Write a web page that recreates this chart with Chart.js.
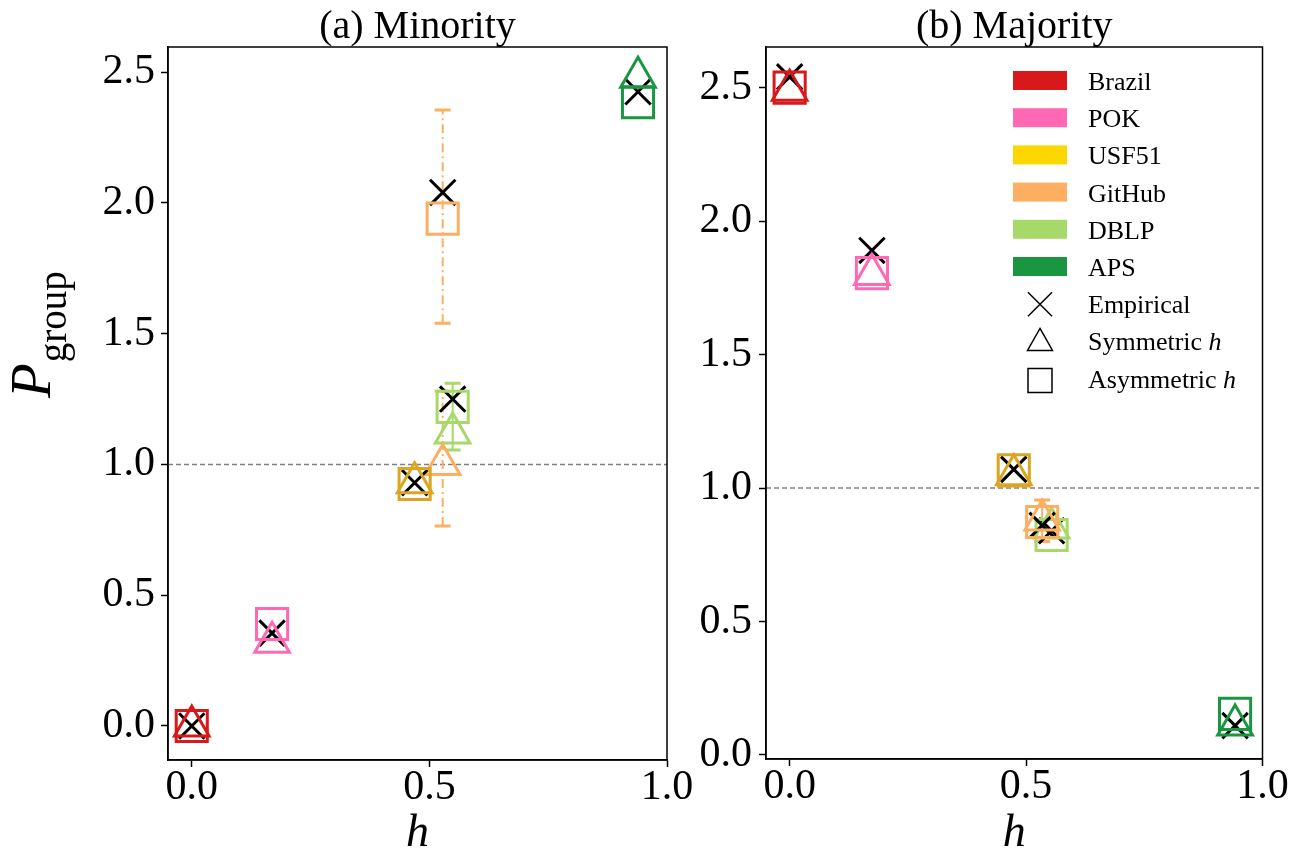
<!DOCTYPE html>
<html>
<head>
<meta charset="utf-8">
<script src="https://cdn.jsdelivr.net/npm/chart.js@4.4.0/dist/chart.umd.min.js"></script>
<style>
  html, body { margin: 0; padding: 0; background: #fff; }
  #wrap { position: relative; width: 1302px; height: 852px; }
  #minorityChart { position: absolute; left: 0; top: 0; }
  #majorityChart { position: absolute; left: 700px; top: 0; }
</style>
</head>
<body>
<div id="wrap">
  <canvas id="minorityChart" width="700" height="852"></canvas>
  <canvas id="majorityChart" width="602" height="852"></canvas>
</div>
<script>
// groups and colours
var groups = ['Brazil', 'POK', 'USF51', 'GitHub', 'DBLP', 'APS'];
var legendColors = ['#d7191c', '#ff69b4', '#ffd700', '#fdae61', '#a6d96a', '#1a9641'];
var markerColors = ['#d7191c', '#ff69b4', '#daa520', '#fdae61', '#a6d96a', '#1a9641'];
var markerLabels = ['Empirical', 'Symmetric ', 'Asymmetric '];

var xTicks = [0.0, 0.5, 1.0];
var yTicks = [0.0, 0.5, 1.0, 1.5, 2.0, 2.5];

// (a) minority
var minorityH = [0.0, 0.169, 0.469, 0.528, 0.549, 0.939];
var minorityEmpirical = [0.0, 0.355, 0.93, 2.04, 1.25, 2.425];
var minoritySymmetric = [0.0, 0.32, 0.93, 1.0, 1.12, 2.48];
var minorityAsymmetric = [0.0, 0.39, 0.925, 1.94, 1.22, 2.385];
var minorityErrGroup = ['GitHub', 'GitHub', 'DBLP'];
var minorityErrLow = [0.765, 1.54, 1.055];
var minorityErrHigh = [1.28, 2.355, 1.31];
var minorityErrDashed = [true, true, false];

// (b) majority
var majorityH = [0.0, 0.174, 0.474, 0.534, 0.554, 0.942];
var majorityEmpirical = [2.54, 1.89, 1.07, 0.86, 0.84, 0.11];
var majoritySymmetric = [2.49, 1.80, 1.05, 0.88, 0.85, 0.112];
var majorityAsymmetric = [2.50, 1.805, 1.066, 0.873, 0.824, 0.154];
var majorityErrGroup = ['GitHub'];
var majorityErrLow = [0.80];
var majorityErrHigh = [0.955];
var majorityErrDashed = [false];

var serif = "'Liberation Serif', 'Times New Roman', serif";

function buildDatasets(h, emp, sym, asym) {
  var sets = [];
  groups.forEach(function (name, i) {
    sets.push({
      label: name + ' asymmetric',
      data: [{ x: h[i], y: asym[i] }],
      pointStyle: 'rect',
      radius: 22,
      borderColor: markerColors[i],
      backgroundColor: 'rgba(0,0,0,0)',
      borderWidth: 3
    });
    sets.push({
      label: name + ' symmetric',
      data: [{ x: h[i], y: sym[i] }],
      pointStyle: 'triangle',
      radius: 20,
      borderColor: markerColors[i],
      backgroundColor: 'rgba(0,0,0,0)',
      borderWidth: 3
    });
    sets.push({
      label: name + ' empirical',
      data: [{ x: h[i], y: emp[i] }],
      pointStyle: 'crossRot',
      radius: 18,
      borderColor: '#000',
      backgroundColor: 'rgba(0,0,0,0)',
      borderWidth: 3
    });
  });
  return sets;
}

var framePlugin = {
  id: 'frame',
  beforeDatasetsDraw: function (chart) {
    var ctx = chart.ctx, a = chart.chartArea, y = chart.scales.y;
    var py = y.getPixelForValue(1.0);
    ctx.save();
    ctx.strokeStyle = '#808080';
    ctx.lineWidth = 1.5;
    ctx.setLineDash([5, 3]);
    ctx.beginPath();
    ctx.moveTo(a.left, py);
    ctx.lineTo(a.right, py);
    ctx.stroke();
    ctx.restore();
  },
  afterDraw: function (chart) {
    var ctx = chart.ctx, a = chart.chartArea;
    ctx.save();
    ctx.strokeStyle = '#000';
    ctx.lineWidth = 1.5;
    ctx.strokeRect(a.left, a.top, a.right - a.left, a.bottom - a.top);
    ctx.restore();
  }
};

function errorBarPlugin(h, errGroup, lows, highs, dashed) {
  return {
    id: 'errorBars',
    beforeDatasetsDraw: function (chart) {
      var ctx = chart.ctx, xs = chart.scales.x, ys = chart.scales.y;
      errGroup.forEach(function (g, k) {
        var i = groups.indexOf(g);
        var px = xs.getPixelForValue(h[i]);
        var lo = ys.getPixelForValue(lows[k]);
        var hi = ys.getPixelForValue(highs[k]);
        ctx.save();
        ctx.strokeStyle = markerColors[i];
        ctx.lineWidth = 2;
        ctx.setLineDash(dashed[k] ? [9, 4, 2, 4] : []);
        ctx.beginPath();
        ctx.moveTo(px, lo);
        ctx.lineTo(px, hi);
        ctx.stroke();
        ctx.setLineDash([]);
        ctx.lineWidth = 3;
        ctx.beginPath();
        ctx.moveTo(px - 8, lo); ctx.lineTo(px + 8, lo);
        ctx.moveTo(px - 8, hi); ctx.lineTo(px + 8, hi);
        ctx.stroke();
        ctx.restore();
      });
    }
  };
}

function textPlugin(title, withYLabel) {
  return {
    id: 'texts',
    afterDraw: function (chart) {
      var ctx = chart.ctx, a = chart.chartArea;
      var cx = (a.left + a.right) / 2;
      ctx.save();
      ctx.fillStyle = '#000';
      ctx.textAlign = 'center';
      ctx.textBaseline = 'alphabetic';
      ctx.font = '40px ' + serif;
      ctx.fillText(title, cx, 38);
      ctx.font = 'italic 46px ' + serif;
      ctx.fillText('h', cx, 846);
      if (withYLabel) {
        ctx.translate(50, 398);
        ctx.rotate(-Math.PI / 2);
        ctx.textAlign = 'left';
        ctx.font = 'italic 57px ' + serif;
        ctx.fillText('P', 0, 0);
        var w = ctx.measureText('P').width;
        ctx.font = '39px ' + serif;
        ctx.fillText('group', w + 1, 16);
      }
      ctx.restore();
    }
  };
}

var legendPlugin = {
  id: 'customLegend',
  afterDraw: function (chart) {
    var ctx = chart.ctx, a = chart.chartArea;
    var left = a.right - 249.5;
    var step = 37.2;
    ctx.save();
    ctx.font = '26px ' + serif;
    ctx.textAlign = 'left';
    ctx.textBaseline = 'alphabetic';
    groups.forEach(function (name, i) {
      var base = 90 + i * step;
      ctx.fillStyle = legendColors[i];
      ctx.fillRect(left, base - 19, 54, 19);
      ctx.fillStyle = '#000';
      ctx.fillText(name, left + 75, base);
    });
    ctx.strokeStyle = '#000';
    ctx.lineWidth = 1.5;
    var mx = left + 27;
    markerLabels.forEach(function (label, j) {
      var base = 90 + (groups.length + j) * step;
      var cy = base - 9;
      ctx.beginPath();
      if (j === 0) {
        ctx.moveTo(mx - 12, cy - 12); ctx.lineTo(mx + 12, cy + 12);
        ctx.moveTo(mx + 12, cy - 12); ctx.lineTo(mx - 12, cy + 12);
      } else if (j === 1) {
        ctx.moveTo(mx, cy - 13); ctx.lineTo(mx + 12.5, cy + 9); ctx.lineTo(mx - 12.5, cy + 9); ctx.closePath();
      } else {
        ctx.rect(mx - 12, cy - 12 + 2, 24, 24);
      }
      ctx.stroke();
      ctx.fillStyle = '#000';
      ctx.font = '26px ' + serif;
      ctx.fillText(label, left + 75, base);
      if (j > 0) {
        var w = ctx.measureText(label).width;
        ctx.font = 'italic 26px ' + serif;
        ctx.fillText('h', left + 75 + w, base);
      }
    });
    ctx.restore();
  }
};

function makeChart(canvasId, cfg) {
  var ctx = document.getElementById(canvasId).getContext('2d');
  return new Chart(ctx, {
    type: 'scatter',
    data: { datasets: buildDatasets(cfg.h, cfg.emp, cfg.sym, cfg.asym) },
    options: {
      responsive: false,
      animation: false,
      events: [],
      layout: { padding: cfg.padding },
      plugins: { legend: { display: false }, tooltip: { enabled: false } },
      scales: {
        x: {
          type: 'linear',
          min: -0.05,
          max: 1.0,
          afterBuildTicks: function (s) { s.ticks = xTicks.map(function (v) { return { value: v }; }); },
          afterFit: function (s) { s.height = cfg.xAxisHeight; },
          grid: { drawOnChartArea: false, drawTicks: true, tickLength: 7, tickWidth: 1.5, tickColor: '#000' },
          border: { display: true, color: '#000', width: 1.5 },
          ticks: {
            color: '#000', font: { family: serif, size: 42 }, padding: -4, maxRotation: 0, autoSkip: false,
            callback: function (v) { return Number(v).toFixed(1); }
          }
        },
        y: {
          type: 'linear',
          min: cfg.yMin,
          max: cfg.yMax,
          afterBuildTicks: function (s) { s.ticks = yTicks.map(function (v) { return { value: v }; }); },
          afterFit: function (s) { s.width = cfg.yAxisWidth; },
          grid: { drawOnChartArea: false, drawTicks: true, tickLength: 7, tickWidth: 1.5, tickColor: '#000' },
          border: { display: true, color: '#000', width: 1.5 },
          ticks: {
            color: '#000', font: { family: serif, size: 42 }, padding: cfg.yTickPad, autoSkip: false,
            callback: function (v) { return Number(v).toFixed(1); }
          }
        }
      }
    },
    plugins: cfg.plugins
  });
}

makeChart('minorityChart', {
  h: minorityH, emp: minorityEmpirical, sym: minoritySymmetric, asym: minorityAsymmetric,
  padding: { left: 0, right: 33, top: 47, bottom: 0 },
  xAxisHeight: 92, yAxisWidth: 168, yTickPad: 6,
  yMin: -0.13, yMax: 2.596,
  plugins: [framePlugin,
    errorBarPlugin(minorityH, minorityErrGroup, minorityErrLow, minorityErrHigh, minorityErrDashed),
    textPlugin('(a) Minority', true)]
});

makeChart('majorityChart', {
  h: majorityH, emp: majorityEmpirical, sym: majoritySymmetric, asym: majorityAsymmetric,
  padding: { left: 0, right: 39.5, top: 47, bottom: 0 },
  xAxisHeight: 93, yAxisWidth: 66, yTickPad: 7,
  yMin: -0.015, yMax: 2.652,
  plugins: [framePlugin,
    errorBarPlugin(majorityH, majorityErrGroup, majorityErrLow, majorityErrHigh, majorityErrDashed),
    textPlugin('(b) Majority', false), legendPlugin]
});
</script>
</body>
</html>
